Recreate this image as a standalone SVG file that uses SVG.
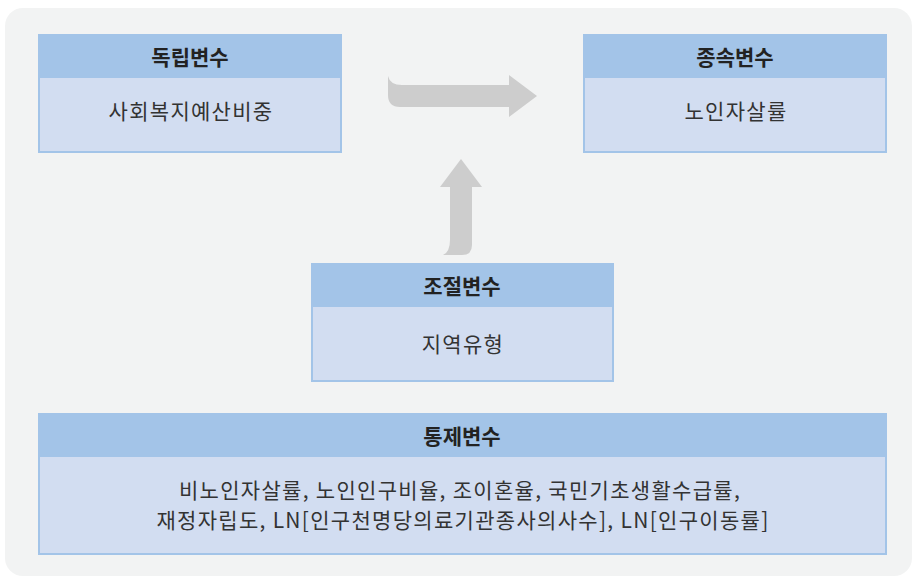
<svg xmlns="http://www.w3.org/2000/svg" width="914" height="578" viewBox="0 0 914 578">
<style>
.hd{fill:#a3c4e8}
.bd{fill:#d2ddf1;stroke:#a3c4e8;stroke-width:2}
.t{font-family:"Noto Sans CJK KR","Noto Sans",sans-serif;font-size:21px;fill:#333;text-anchor:middle;dominant-baseline:central;letter-spacing:1.3px}
.b{font-weight:bold;fill:#222;letter-spacing:0}
.arr{fill:#cdcdcd}
</style>
<rect x="0" y="0" width="914" height="578" fill="#ffffff"/>
<rect x="5" y="8" width="907" height="568" rx="18" fill="#f2f3f3"/>
<g id="connectors">
<path class="arr" d="M388,76 Q390,85 402,85 L509,85 L509,75 L537,96 L509,117 L509,107 L400,107 Q388,107 388,95 Z"/>
<path class="arr" d="M443,255 Q450,252 450,240 L450,187 L440,187 L461,159 L482,187 L472,187 L472,245 Q472,255 462,255 Z"/>
</g>
<g id="independent">
<rect class="bd" x="39" y="35" width="302" height="117"/>
<rect class="hd" x="38" y="34" width="304" height="44"/>
<text class="t b" x="190" y="56">독립변수</text>
<text class="t" x="191" y="110">사회복지예산비중</text>
</g>
<g id="dependent">
<rect class="bd" x="584" y="35" width="302" height="117"/>
<rect class="hd" x="583" y="34" width="304" height="44"/>
<text class="t b" x="735" y="56">종속변수</text>
<text class="t" x="736" y="110">노인자살률</text>
</g>
<g id="moderator">
<rect class="bd" x="312" y="264" width="301" height="117"/>
<rect class="hd" x="311" y="263" width="303" height="44"/>
<text class="t b" x="462" y="285">조절변수</text>
<text class="t" x="463" y="343">지역유형</text>
</g>
<g id="control">
<rect class="bd" x="39" y="414" width="847" height="140"/>
<rect class="hd" x="38" y="413" width="849" height="44"/>
<text class="t b" x="462" y="435">통제변수</text>
<text class="t" x="460" y="489">비노인자살률, 노인인구비율, 조이혼율, 국민기초생활수급률,</text>
<text class="t" x="463" y="519">재정자립도, LN[인구천명당의료기관종사의사수], LN[인구이동률]</text>
</g>
</svg>
